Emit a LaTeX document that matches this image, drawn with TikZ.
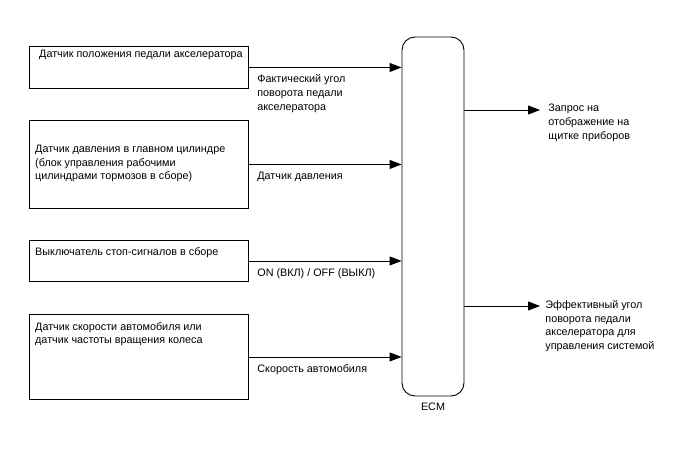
\documentclass[tikz,border=0pt]{standalone}
\usepackage{fontspec}
\setmainfont{Liberation Sans}
\usetikzlibrary{arrows.meta,positioning,calc}

\begin{document}
\begin{tikzpicture}[x=1pt, y=-1pt, >={Triangle[length=12pt,width=9pt]},
    box/.style={draw, line width=0.9pt, inner sep=0, anchor=north west, minimum width=219pt},
    txt/.style={inner sep=0, anchor=north west, align=left, font=\fontsize{10.8}{13.6}\selectfont},
    sig/.style={->, line width=0.9pt}]
    \useasboundingbox (0,0) rectangle (688,463);
    % sensors on the left
    \node[box, minimum height=42pt] (app) at (29,46) {};
    \node[box, minimum height=88pt] (mcp) at (29,120) {};
    \node[box, minimum height=41pt] (stop) at (29,240) {};
    \node[box, minimum height=85pt] (spd) at (29,314) {};
    \node[txt, below right=4pt and 10pt of app.north west] (apptxt) {Датчик положения педали акселератора};
    \node[txt, below right=25pt and 6pt of mcp.north west] (mcptxt) {Датчик давления в главном цилиндре\\(блок управления рабочими\\цилиндрами тормозов в сборе)};
    \node[txt, below right=7pt and 6pt of stop.north west] (stoptxt) {Выключатель стоп-сигналов в сборе};
    \node[txt, below right=8pt and 6pt of spd.north west] (spdtxt) {Датчик скорости автомобиля или\\датчик частоты вращения колеса};
    % ECM
    \node[draw, line width=0.9pt, rounded corners=13pt, minimum width=62pt, minimum height=359pt] (ecm) at (433,216.5) {};
    \node[txt, anchor=north] (ecmlbl) at (433,403) {ECM};
    % inputs
    \draw[sig] (app.east) -- (app.east -| ecm.west) node[txt, pos=0, xshift=8pt, yshift=-7pt] {Фактический угол\\поворота педали\\акселератора};
    \draw[sig] (mcp.east) -- (mcp.east -| ecm.west) node[txt, pos=0, xshift=8pt, yshift=-7pt] {Датчик давления};
    \draw[sig] (stop.east) -- (stop.east -| ecm.west) node[txt, pos=0, xshift=8pt, yshift=-7pt] {ON (ВКЛ) / OFF (ВЫКЛ)};
    \draw[sig] (spd.east) -- (spd.east -| ecm.west) node[txt, pos=0, xshift=8pt, yshift=-7pt] {Скорость автомобиля};
    % outputs
    \coordinate (meter) at (540,110);
    \coordinate (eff) at (540,306);
    \draw[sig] (ecm.east |- meter) -- (meter) node[txt, xshift=8pt, yshift=6pt] {Запрос на\\отображение на\\щитке приборов};
    \draw[sig] (ecm.east |- eff) -- (eff) node[txt, xshift=5pt, yshift=6pt] {Эффективный угол\\поворота педали\\акселератора для\\управления системой};
\end{tikzpicture}
\end{document}
